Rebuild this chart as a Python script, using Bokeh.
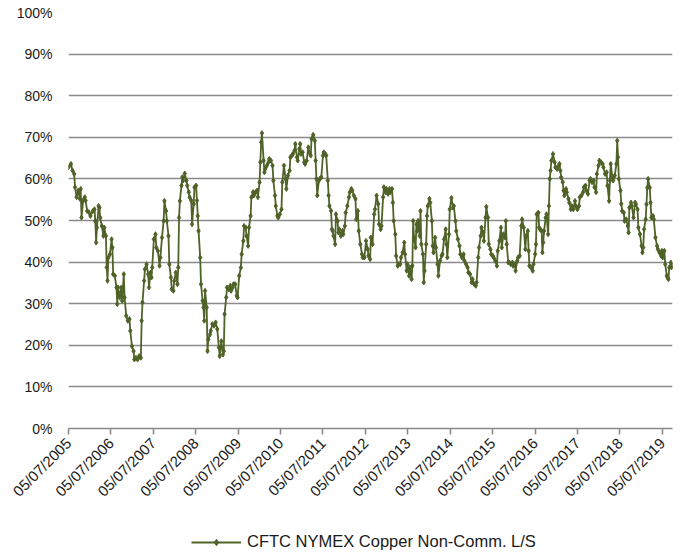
import math
import numpy as np
import pandas as pd
from bokeh.plotting import figure
from bokeh.layouts import column
from bokeh.models import (FixedTicker, DatetimeTickFormatter, PrintfTickFormatter,
                          Legend, LegendItem, Range1d)
from bokeh.embed import file_html
from bokeh.resources import INLINE

# ---------------- data ----------------
start_date = "2005-07-05"          # first weekly CFTC report in the chart
series_name = "CFTC NYMEX Copper Non-Comm. L/S"

# weeks elapsed since start_date for each observation
week_index = [
    0, 3, 5, 7, 8, 10, 12, 14, 15, 16,
    18, 20, 21, 23, 25, 27, 30, 32, 33, 34,
    35, 37, 38, 39, 41, 43, 44, 46, 47, 48,
    49, 51, 53, 54, 55, 57, 59, 60, 61, 63,
    65, 66, 68, 69, 71, 73, 75, 76, 78, 80,
    81, 83, 85, 87, 89, 90, 91, 93, 94, 96,
    98, 99, 101, 102, 103, 105, 107, 108, 110, 112,
    113, 115, 117, 118, 120, 121, 123, 124, 126, 127,
    129, 130, 132, 134, 135, 136, 137, 139, 140, 141,
    143, 145, 146, 148, 149, 151, 152, 154, 155, 157,
    158, 159, 160, 162, 163, 165, 166, 167, 168, 170,
    171, 172, 174, 175, 177, 179, 181,
    183, 185, 186, 188, 190, 191, 192, 194, 195, 197,
    199, 200, 202, 203, 205, 207, 208, 210, 212, 213,
    215, 216, 218, 219, 221, 222, 224, 225, 227, 228,
    230, 232, 233, 235, 236, 237, 238, 240, 241, 242,
    244, 246, 247, 249, 251, 252, 254, 255, 257, 258,
    260, 262, 263, 265, 267, 268, 270, 272, 273, 275,
    276, 278, 279, 281, 282, 284, 285, 286, 288, 290,
    291, 293, 295, 296, 298, 299, 301, 303, 304, 305,
    306, 308, 309, 311, 313, 314, 316, 317, 319, 320,
    321, 323, 324, 325, 326, 328, 329, 331, 332, 333,
    335, 337, 338, 340, 341, 343, 345, 346, 348, 349,
    351, 353, 354, 356, 357, 359, 361, 362, 364, 366,
    368, 369, 371, 372, 374, 376, 377, 379, 381, 382,
    384, 385, 387, 388, 390, 391, 393, 395, 396, 398,
    399, 400, 402, 403, 405, 406, 408, 409, 411, 413,
    414, 416, 417, 419, 420, 422, 423, 424, 425, 427,
    428, 429, 430, 432, 433, 434, 436, 437, 438, 440,
    441, 442, 444, 445, 447, 448, 449, 451, 452, 454,
    455, 457, 459, 460, 462, 464, 465, 466, 468, 469,
    471, 473, 474, 476, 477, 479, 481, 482, 484, 486,
    487, 489, 491, 492, 494, 496, 497, 499, 501, 502,
    504, 505, 507, 508, 510, 511, 513, 514, 516, 517,
    519, 520, 522, 523, 525, 527, 528, 530, 532, 533,
    535, 537, 538, 539, 541, 542, 544, 546, 547, 549,
    550, 552, 553, 555, 557, 558, 560, 562, 563, 565,
    566, 567, 569, 571, 572, 574, 575, 576, 578, 579,
    580, 582, 583, 584, 585, 587, 588, 590, 591, 592,
    593, 594, 596, 598, 599, 601, 603, 604, 605, 606,
    608, 609, 610, 612, 613, 615, 616, 618, 619, 621,
    623, 624, 626, 628, 629, 631, 633, 634, 636, 637,
    639, 641, 642, 644, 646, 647, 649, 650, 652, 653,
    655, 657, 658, 660, 662, 663, 665, 666, 667, 669,
    670, 672, 674, 675, 676, 677, 679, 680, 681, 683,
    684, 686, 688, 689, 690, 692, 693, 695, 697, 698,
    700, 701, 703, 705, 706, 707, 708, 710, 711, 712,
    713, 715, 716, 717, 719, 720, 722, 724, 725, 727,
    729, 730, 731, 733, 734, 736, 737, 738, 739, 741,
    742, 743,
]

# non-commercial long / (long + short), in percent
noncomm_ls_pct = [
    62.8, 63.6, 62.0, 61.2, 58.0, 55.6, 57.2, 55.2, 57.6, 50.7,
    54.8, 55.6, 54.8, 52.3, 52.0, 51.1, 52.3, 52.7, 49.9, 44.7,
    48.3, 53.5, 53.1, 50.7, 48.7, 46.3, 48.3, 46.3, 38.7, 35.5,
    41.1, 41.9, 45.5, 43.5, 37.1, 36.7, 33.9, 29.9, 33.9, 31.5,
    33.9, 30.7, 37.1, 31.5, 27.1, 25.9, 26.3, 23.5, 19.8, 18.6,
    16.6, 17.0, 16.6, 17.4, 17.0, 25.9, 30.3, 35.5, 38.3, 39.5,
    37.1, 33.9, 37.5, 36.3, 38.7, 45.5, 46.7, 43.5, 42.7, 39.1,
    41.1, 45.9, 49.9, 54.7, 52.3, 49.9, 46.3, 39.5, 36.3, 33.5,
    33.1, 35.5, 37.5, 34.7, 38.7, 50.7, 54.7, 58.4, 60.4, 59.6,
    61.3, 59.6, 58.4, 56.8, 55.6, 54.8, 49.1, 54.0, 58.0, 58.4,
    54.8, 51.1, 47.5, 41.1, 34.7, 30.7, 29.1, 25.9, 33.1, 29.1,
    18.6, 21.4, 22.6, 23.5, 25.1, 24.7, 25.5,
    23.9, 19.5, 17.4, 21.0, 17.8, 18.6, 27.5, 31.5, 33.9, 33.5,
    34.3, 33.1, 33.9, 34.7, 34.7, 31.9, 31.5, 36.7, 38.7, 41.9,
    45.1, 48.7, 48.3, 46.3, 43.9, 48.3, 51.1, 55.6, 56.8, 56.0,
    56.8, 57.2, 55.6, 59.2, 64.0, 68.8, 71.0, 64.4, 61.6, 62.4,
    63.2, 64.0, 64.8, 64.4, 63.2, 59.6, 56.0, 53.5, 51.1, 50.7,
    51.5, 52.7, 59.2, 63.2, 60.0, 57.6, 60.8, 62.0, 65.2, 65.7,
    66.0, 66.8, 68.4, 65.2, 64.4, 67.2, 68.4, 66.0, 66.4, 64.0,
    63.6, 64.4, 67.6, 66.4, 65.6, 69.6, 70.6, 69.2, 64.4, 60.0,
    56.0, 59.6, 60.0, 60.4, 65.6, 66.4, 66.0, 65.6, 59.6, 56.0,
    53.5, 52.3, 47.9, 47.5, 46.3, 44.3, 51.5, 49.9, 47.1, 47.9,
    46.3, 47.5, 46.7, 48.7, 51.9, 53.5, 55.6, 56.8, 57.6, 57.2,
    56.0, 55.2, 50.3, 52.3, 47.5, 44.3, 41.9, 41.1, 41.1, 45.1,
    43.1, 41.5, 40.7, 45.9, 44.3, 51.5, 52.7, 56.0, 54.0, 49.1,
    47.9, 48.7, 55.6, 58.0, 56.8, 57.6, 56.4, 57.6, 56.8, 57.6,
    54.3, 49.9, 46.7, 41.5, 39.1, 39.5, 39.5, 41.1, 42.3, 44.7,
    41.9, 37.9, 39.5, 36.7, 38.7, 35.9, 39.1, 49.9, 45.9, 43.5,
    49.1, 47.5, 49.9, 46.3, 52.3, 44.3, 41.9, 35.1, 37.9, 44.3,
    51.1, 53.5, 55.2, 54.3, 49.9, 43.9, 42.3, 45.9, 43.5, 39.5,
    36.7, 40.3, 41.5, 41.9, 45.5, 47.9, 44.3, 41.1, 46.7, 52.7,
    55.4, 53.1, 53.5, 49.9, 47.5, 45.5, 43.9, 41.9, 41.1, 41.9,
    40.3, 39.5, 38.7, 37.5, 37.1, 35.1, 35.9, 34.7, 34.3, 35.1,
    41.1, 43.5, 46.3, 48.3, 47.1, 45.1, 50.7, 53.3, 50.7, 44.3,
    43.1, 41.9, 41.5, 41.1, 40.3, 39.1, 42.7, 45.1, 48.3, 43.5,
    46.7, 45.9, 49.9, 44.3, 39.9, 39.9, 39.5, 39.9, 39.1, 39.5,
    37.9, 40.3, 41.1, 41.5, 48.7, 50.3, 48.3, 43.1, 46.3, 47.5,
    42.7, 39.1, 38.7, 37.9, 39.5, 41.9, 44.3, 51.5, 51.9, 48.3,
    47.9, 47.5, 42.3, 44.7, 47.5, 50.7, 51.5, 46.7, 53.5, 60.0,
    62.0, 64.4, 66.0, 64.0, 62.8, 62.4, 63.2, 63.6, 62.0, 60.4,
    59.2, 57.2, 56.0, 57.6, 56.8, 55.2, 54.3, 52.7, 53.5, 52.7,
    54.7, 53.5, 52.7, 53.5, 55.6, 56.0, 56.8, 58.0, 58.4, 57.2,
    56.4, 59.6, 60.0, 59.2, 59.6, 58.0, 56.8, 61.2, 63.2, 64.4,
    64.0, 63.6, 62.8, 61.2, 61.6, 58.4, 54.7, 59.6, 63.6, 60.4,
    59.6, 60.8, 63.6, 69.2, 65.2, 60.0, 57.2, 54.0, 52.3, 51.9,
    49.9, 50.3, 48.7, 47.1, 53.1, 54.3, 53.5, 50.7, 54.3, 53.9,
    52.7, 48.3, 46.7, 43.9, 42.3, 43.5, 47.9, 50.3, 53.9, 57.9,
    60.0, 57.9, 54.3, 50.7, 51.1, 50.3, 45.9, 43.9, 43.1, 42.3,
    41.5, 42.7, 41.1, 42.7, 39.5, 36.7, 36.3, 35.9, 38.7, 39.9,
    38.7, 39.1,
]

tick_dates = ["2005-07-05", "2006-07-05", "2007-07-05", "2008-07-05",
              "2009-07-05", "2010-07-05", "2011-07-05", "2012-07-05",
              "2013-07-05", "2014-07-05", "2015-07-05", "2016-07-05",
              "2017-07-05", "2018-07-05", "2019-07-05"]
y_ticks = [0, 10, 20, 30, 40, 50, 60, 70, 80, 90, 100]

assert len(week_index) == len(noncomm_ls_pct)

# ---------------- build ----------------
dates = pd.Timestamp(start_date) + pd.to_timedelta(np.array(week_index) * 7, unit="D")
tick_ms = [float(pd.Timestamp(d).value // 10**6) for d in tick_dates]

FONT = "Liberation Sans"
GRID = "#8a8a8a"
LINE = "#4F6228"
LW = 1.8
MS = 5

p = figure(width=680, height=529, x_axis_type="datetime",
           x_range=Range1d(dates[0], dates[-1]), y_range=Range1d(0, 100),
           output_backend="svg", toolbar_location=None,
           min_border_left=68, min_border_right=8, min_border_top=12,
           min_border_bottom=101)
p.outline_line_color = None
p.background_fill_color = "white"
p.border_fill_color = "white"

p.xgrid.visible = False
p.ygrid.ticker = FixedTicker(ticks=y_ticks)
p.ygrid.grid_line_color = GRID
p.ygrid.grid_line_width = 1.6

p.yaxis.ticker = FixedTicker(ticks=y_ticks)
p.yaxis.formatter = PrintfTickFormatter(format="%d%%")
p.yaxis.axis_line_color = None
p.yaxis.major_tick_line_color = None
p.yaxis.minor_tick_line_color = None
p.yaxis.major_tick_out = 0
p.yaxis.major_tick_in = 0
p.yaxis.minor_tick_out = 0
p.yaxis.major_label_text_font = FONT
p.yaxis.major_label_text_font_size = "14px"
p.yaxis.major_label_text_color = "#1a1a1a"
p.yaxis.major_label_standoff = 16

p.xaxis.ticker = FixedTicker(ticks=tick_ms)
p.xaxis.formatter = DatetimeTickFormatter(
    milliseconds="%d/%m/%Y", seconds="%d/%m/%Y", minsec="%d/%m/%Y",
    minutes="%d/%m/%Y", hourmin="%d/%m/%Y", hours="%d/%m/%Y",
    days="%d/%m/%Y", months="%d/%m/%Y", years="%d/%m/%Y")
p.xaxis.major_label_orientation = math.pi / 4
p.xaxis.axis_line_color = GRID
p.xaxis.axis_line_width = 1.6
p.xaxis.major_tick_line_color = GRID
p.xaxis.major_tick_line_width = 1.6
p.xaxis.major_tick_out = 6
p.xaxis.major_tick_in = 0
p.xaxis.minor_tick_line_color = None
p.xaxis.minor_tick_out = 0
p.xaxis.major_label_text_font = FONT
p.xaxis.major_label_text_font_size = "15px"
p.xaxis.major_label_text_color = "#1a1a1a"
p.xaxis.major_label_standoff = 6

p.line(dates, noncomm_ls_pct, line_color=LINE, line_width=LW)
p.scatter(dates, noncomm_ls_pct, marker="diamond", size=MS,
          line_color=LINE, fill_color=LINE)

# ---- legend strip below the chart (its sample renderers sit outside the view) ----
leg = figure(width=680, height=24, x_range=Range1d(0, 1), y_range=Range1d(0, 1),
             output_backend="svg", toolbar_location=None, min_border=0,
             x_axis_location=None, y_axis_location=None)
leg.outline_line_color = None
leg.grid.visible = False
leg.border_fill_color = "white"
sample_x = [tick_ms[0]]
sample_y = [noncomm_ls_pct[0]]
leg_line = leg.line(x=sample_x, y=sample_y, line_color=LINE, line_width=LW)
leg_pts = leg.scatter(x=sample_x, y=sample_y, marker="diamond", size=MS,
                      line_color=LINE, fill_color=LINE)
legend = Legend(items=[LegendItem(label=series_name, renderers=[leg_line, leg_pts])],
                orientation="horizontal", location=(123, 2),
                border_line_color=None, background_fill_alpha=0,
                glyph_width=50, glyph_height=16, label_standoff=6,
                label_text_font=FONT, label_text_font_size="16.5px",
                label_text_color="#1a1a1a", padding=2, margin=0)
leg.add_layout(legend, "center")

open("out.html", "w").write(file_html(column(p, leg, spacing=0), INLINE))
